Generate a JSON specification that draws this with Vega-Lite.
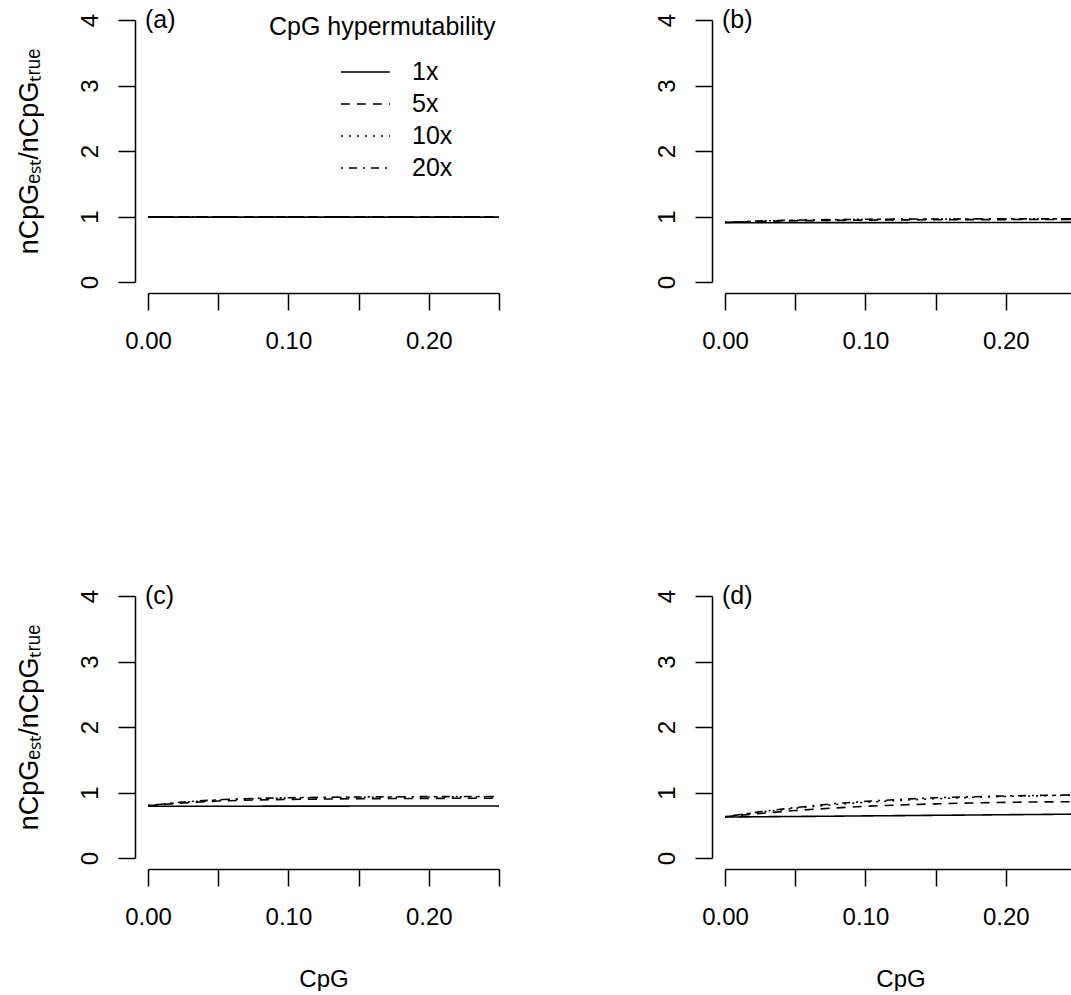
{
  "$schema": "https://vega.github.io/schema/vega-lite/v6.json",
  "usermeta": {"embedOptions": {"actions": false}},
  "padding": {"left": 15, "top": 8, "right": 0, "bottom": 0},
  "background": "white",
  "datasets": {
    "curves": [
      {"p":"a","m":"1x","x":0,"y":0.99},{"p":"a","m":"1x","x":0.025,"y":0.99},{"p":"a","m":"1x","x":0.05,"y":0.99},{"p":"a","m":"1x","x":0.075,"y":0.99},{"p":"a","m":"1x","x":0.1,"y":0.99},{"p":"a","m":"1x","x":0.125,"y":0.99},{"p":"a","m":"1x","x":0.15,"y":0.99},{"p":"a","m":"1x","x":0.175,"y":0.99},{"p":"a","m":"1x","x":0.2,"y":0.99},{"p":"a","m":"1x","x":0.225,"y":0.99},{"p":"a","m":"1x","x":0.25,"y":0.99},
      {"p":"a","m":"5x","x":0,"y":0.995},{"p":"a","m":"5x","x":0.025,"y":0.995},{"p":"a","m":"5x","x":0.05,"y":0.995},{"p":"a","m":"5x","x":0.075,"y":0.995},{"p":"a","m":"5x","x":0.1,"y":0.995},{"p":"a","m":"5x","x":0.125,"y":0.995},{"p":"a","m":"5x","x":0.15,"y":0.995},{"p":"a","m":"5x","x":0.175,"y":0.995},{"p":"a","m":"5x","x":0.2,"y":0.995},{"p":"a","m":"5x","x":0.225,"y":0.995},{"p":"a","m":"5x","x":0.25,"y":0.995},
      {"p":"a","m":"10x","x":0,"y":0.996},{"p":"a","m":"10x","x":0.025,"y":0.996},{"p":"a","m":"10x","x":0.05,"y":0.996},{"p":"a","m":"10x","x":0.075,"y":0.996},{"p":"a","m":"10x","x":0.1,"y":0.996},{"p":"a","m":"10x","x":0.125,"y":0.996},{"p":"a","m":"10x","x":0.15,"y":0.996},{"p":"a","m":"10x","x":0.175,"y":0.996},{"p":"a","m":"10x","x":0.2,"y":0.996},{"p":"a","m":"10x","x":0.225,"y":0.996},{"p":"a","m":"10x","x":0.25,"y":0.996},
      {"p":"a","m":"20x","x":0,"y":0.997},{"p":"a","m":"20x","x":0.025,"y":0.997},{"p":"a","m":"20x","x":0.05,"y":0.997},{"p":"a","m":"20x","x":0.075,"y":0.997},{"p":"a","m":"20x","x":0.1,"y":0.997},{"p":"a","m":"20x","x":0.125,"y":0.997},{"p":"a","m":"20x","x":0.15,"y":0.997},{"p":"a","m":"20x","x":0.175,"y":0.997},{"p":"a","m":"20x","x":0.2,"y":0.997},{"p":"a","m":"20x","x":0.225,"y":0.997},{"p":"a","m":"20x","x":0.25,"y":0.997},

      {"p":"b","m":"1x","x":0,"y":0.905},{"p":"b","m":"1x","x":0.025,"y":0.905},{"p":"b","m":"1x","x":0.05,"y":0.906},{"p":"b","m":"1x","x":0.075,"y":0.906},{"p":"b","m":"1x","x":0.1,"y":0.907},{"p":"b","m":"1x","x":0.125,"y":0.907},{"p":"b","m":"1x","x":0.15,"y":0.908},{"p":"b","m":"1x","x":0.175,"y":0.908},{"p":"b","m":"1x","x":0.2,"y":0.909},{"p":"b","m":"1x","x":0.225,"y":0.909},{"p":"b","m":"1x","x":0.25,"y":0.91},
      {"p":"b","m":"5x","x":0,"y":0.91},{"p":"b","m":"5x","x":0.025,"y":0.925},{"p":"b","m":"5x","x":0.05,"y":0.935},{"p":"b","m":"5x","x":0.075,"y":0.94},{"p":"b","m":"5x","x":0.1,"y":0.945},{"p":"b","m":"5x","x":0.125,"y":0.948},{"p":"b","m":"5x","x":0.15,"y":0.95},{"p":"b","m":"5x","x":0.175,"y":0.952},{"p":"b","m":"5x","x":0.2,"y":0.953},{"p":"b","m":"5x","x":0.225,"y":0.954},{"p":"b","m":"5x","x":0.25,"y":0.955},
      {"p":"b","m":"10x","x":0,"y":0.91},{"p":"b","m":"10x","x":0.025,"y":0.93},{"p":"b","m":"10x","x":0.05,"y":0.942},{"p":"b","m":"10x","x":0.075,"y":0.95},{"p":"b","m":"10x","x":0.1,"y":0.955},{"p":"b","m":"10x","x":0.125,"y":0.958},{"p":"b","m":"10x","x":0.15,"y":0.96},{"p":"b","m":"10x","x":0.175,"y":0.961},{"p":"b","m":"10x","x":0.2,"y":0.962},{"p":"b","m":"10x","x":0.225,"y":0.963},{"p":"b","m":"10x","x":0.25,"y":0.963},
      {"p":"b","m":"20x","x":0,"y":0.91},{"p":"b","m":"20x","x":0.025,"y":0.932},{"p":"b","m":"20x","x":0.05,"y":0.945},{"p":"b","m":"20x","x":0.075,"y":0.952},{"p":"b","m":"20x","x":0.1,"y":0.957},{"p":"b","m":"20x","x":0.125,"y":0.96},{"p":"b","m":"20x","x":0.15,"y":0.962},{"p":"b","m":"20x","x":0.175,"y":0.963},{"p":"b","m":"20x","x":0.2,"y":0.964},{"p":"b","m":"20x","x":0.225,"y":0.964},{"p":"b","m":"20x","x":0.25,"y":0.965},

      {"p":"c","m":"1x","x":0,"y":0.79},{"p":"c","m":"1x","x":0.025,"y":0.79},{"p":"c","m":"1x","x":0.05,"y":0.791},{"p":"c","m":"1x","x":0.075,"y":0.791},{"p":"c","m":"1x","x":0.1,"y":0.792},{"p":"c","m":"1x","x":0.125,"y":0.792},{"p":"c","m":"1x","x":0.15,"y":0.793},{"p":"c","m":"1x","x":0.175,"y":0.793},{"p":"c","m":"1x","x":0.2,"y":0.794},{"p":"c","m":"1x","x":0.225,"y":0.794},{"p":"c","m":"1x","x":0.25,"y":0.795},
      {"p":"c","m":"5x","x":0,"y":0.8},{"p":"c","m":"5x","x":0.025,"y":0.84},{"p":"c","m":"5x","x":0.05,"y":0.87},{"p":"c","m":"5x","x":0.075,"y":0.885},{"p":"c","m":"5x","x":0.1,"y":0.895},{"p":"c","m":"5x","x":0.125,"y":0.9},{"p":"c","m":"5x","x":0.15,"y":0.905},{"p":"c","m":"5x","x":0.175,"y":0.908},{"p":"c","m":"5x","x":0.2,"y":0.91},{"p":"c","m":"5x","x":0.225,"y":0.912},{"p":"c","m":"5x","x":0.25,"y":0.913},
      {"p":"c","m":"10x","x":0,"y":0.8},{"p":"c","m":"10x","x":0.025,"y":0.85},{"p":"c","m":"10x","x":0.05,"y":0.885},{"p":"c","m":"10x","x":0.075,"y":0.905},{"p":"c","m":"10x","x":0.1,"y":0.915},{"p":"c","m":"10x","x":0.125,"y":0.922},{"p":"c","m":"10x","x":0.15,"y":0.927},{"p":"c","m":"10x","x":0.175,"y":0.93},{"p":"c","m":"10x","x":0.2,"y":0.932},{"p":"c","m":"10x","x":0.225,"y":0.934},{"p":"c","m":"10x","x":0.25,"y":0.935},
      {"p":"c","m":"20x","x":0,"y":0.8},{"p":"c","m":"20x","x":0.025,"y":0.855},{"p":"c","m":"20x","x":0.05,"y":0.89},{"p":"c","m":"20x","x":0.075,"y":0.91},{"p":"c","m":"20x","x":0.1,"y":0.92},{"p":"c","m":"20x","x":0.125,"y":0.927},{"p":"c","m":"20x","x":0.15,"y":0.932},{"p":"c","m":"20x","x":0.175,"y":0.935},{"p":"c","m":"20x","x":0.2,"y":0.937},{"p":"c","m":"20x","x":0.225,"y":0.938},{"p":"c","m":"20x","x":0.25,"y":0.94},

      {"p":"d","m":"1x","x":0,"y":0.625},{"p":"d","m":"1x","x":0.025,"y":0.63},{"p":"d","m":"1x","x":0.05,"y":0.634},{"p":"d","m":"1x","x":0.075,"y":0.638},{"p":"d","m":"1x","x":0.1,"y":0.643},{"p":"d","m":"1x","x":0.125,"y":0.647},{"p":"d","m":"1x","x":0.15,"y":0.652},{"p":"d","m":"1x","x":0.175,"y":0.656},{"p":"d","m":"1x","x":0.2,"y":0.661},{"p":"d","m":"1x","x":0.225,"y":0.665},{"p":"d","m":"1x","x":0.25,"y":0.67},
      {"p":"d","m":"5x","x":0,"y":0.63},{"p":"d","m":"5x","x":0.025,"y":0.68},{"p":"d","m":"5x","x":0.05,"y":0.725},{"p":"d","m":"5x","x":0.075,"y":0.76},{"p":"d","m":"5x","x":0.1,"y":0.79},{"p":"d","m":"5x","x":0.125,"y":0.81},{"p":"d","m":"5x","x":0.15,"y":0.827},{"p":"d","m":"5x","x":0.175,"y":0.84},{"p":"d","m":"5x","x":0.2,"y":0.85},{"p":"d","m":"5x","x":0.225,"y":0.856},{"p":"d","m":"5x","x":0.25,"y":0.86},
      {"p":"d","m":"10x","x":0,"y":0.63},{"p":"d","m":"10x","x":0.025,"y":0.7},{"p":"d","m":"10x","x":0.05,"y":0.76},{"p":"d","m":"10x","x":0.075,"y":0.81},{"p":"d","m":"10x","x":0.1,"y":0.85},{"p":"d","m":"10x","x":0.125,"y":0.88},{"p":"d","m":"10x","x":0.15,"y":0.905},{"p":"d","m":"10x","x":0.175,"y":0.925},{"p":"d","m":"10x","x":0.2,"y":0.94},{"p":"d","m":"10x","x":0.225,"y":0.95},{"p":"d","m":"10x","x":0.25,"y":0.96},
      {"p":"d","m":"20x","x":0,"y":0.63},{"p":"d","m":"20x","x":0.025,"y":0.705},{"p":"d","m":"20x","x":0.05,"y":0.77},{"p":"d","m":"20x","x":0.075,"y":0.825},{"p":"d","m":"20x","x":0.1,"y":0.865},{"p":"d","m":"20x","x":0.125,"y":0.895},{"p":"d","m":"20x","x":0.15,"y":0.92},{"p":"d","m":"20x","x":0.175,"y":0.935},{"p":"d","m":"20x","x":0.2,"y":0.948},{"p":"d","m":"20x","x":0.225,"y":0.956},{"p":"d","m":"20x","x":0.25,"y":0.962}
    ]
  },
  "vconcat": [
    {
      "hconcat": [
        {
          "width": 351, "height": 262,
          "layer": [
            {
              "data": {"name": "curves"},
              "transform": [{"filter": "datum.p === 'a'"}],
              "mark": {"type": "line", "color": "black", "strokeWidth": 1.6},
              "encoding": {
                "x": {"field": "x", "type": "quantitative", "scale": {"domain": [0, 0.25], "nice": false, "zero": false},
                  "axis": {"title": null, "values": [0, 0.05, 0.1, 0.15, 0.2, 0.25], "format": ".2f"}},
                "y": {"field": "y", "type": "quantitative", "scale": {"domain": [0, 4], "nice": false},
                  "axis": {"title": "nCpGₑₛₜ/nCpGₜᵣᵤₑ", "values": [0, 1, 2, 3, 4], "format": "d"}},
                "strokeDash": {"field": "m", "type": "nominal", "sort": ["1x", "5x", "10x", "20x"],
                  "scale": {"domain": ["1x", "5x", "10x", "20x"], "range": [[1, 0], [9, 7], [2, 6], [2, 6, 8, 6]]},
                  "legend": {"orient": "none", "legendX": 121, "legendY": -5, "title": "CpG hypermutability",
                    "titleFontSize": 25, "titleFontWeight": "normal", "titleColor": "black", "titleFont": "Liberation Sans", "titlePadding": 16, "titleLimit": 500,
                    "labelFontSize": 25, "labelColor": "black", "labelFont": "Liberation Sans", "labelOffset": 21,
                    "symbolType": "stroke", "symbolSize": 2401, "symbolStrokeColor": "black", "symbolStrokeWidth": 1.5,
                    "symbolOffset": 71, "rowPadding": 0, "clipHeight": 32}}
              }
            },
            {
              "data": {"values": [{"lab": "(a)"}]},
              "mark": {"type": "text", "align": "left", "baseline": "middle", "fontSize": 25, "font": "Liberation Sans", "color": "black", "dx": -3},
              "encoding": {"x": {"datum": 0, "type": "quantitative"}, "y": {"datum": 4, "type": "quantitative"}, "text": {"field": "lab"}}
            }
          ]
        },
        {
          "width": 351, "height": 262,
          "layer": [
            {
              "data": {"name": "curves"},
              "transform": [{"filter": "datum.p === 'b'"}],
              "mark": {"type": "line", "color": "black", "strokeWidth": 1.6},
              "encoding": {
                "x": {"field": "x", "type": "quantitative", "scale": {"domain": [0, 0.25], "nice": false, "zero": false},
                  "axis": {"title": null, "values": [0, 0.05, 0.1, 0.15, 0.2, 0.25], "format": ".2f"}},
                "y": {"field": "y", "type": "quantitative", "scale": {"domain": [0, 4], "nice": false},
                  "axis": {"title": null, "values": [0, 1, 2, 3, 4], "format": "d"}},
                "strokeDash": {"field": "m", "type": "nominal", "sort": ["1x", "5x", "10x", "20x"],
                  "scale": {"domain": ["1x", "5x", "10x", "20x"], "range": [[1, 0], [9, 7], [2, 6], [2, 6, 8, 6]]}, "legend": null}
              }
            },
            {
              "data": {"values": [{"lab": "(b)"}]},
              "mark": {"type": "text", "align": "left", "baseline": "middle", "fontSize": 25, "font": "Liberation Sans", "color": "black", "dx": -3},
              "encoding": {"x": {"datum": 0, "type": "quantitative"}, "y": {"datum": 4, "type": "quantitative"}, "text": {"field": "lab"}}
            }
          ]
        }
      ],
      "spacing": 226,
      "bounds": "flush"
    },
    {
      "hconcat": [
        {
          "width": 351, "height": 262,
          "layer": [
            {
              "data": {"name": "curves"},
              "transform": [{"filter": "datum.p === 'c'"}],
              "mark": {"type": "line", "color": "black", "strokeWidth": 1.6},
              "encoding": {
                "x": {"field": "x", "type": "quantitative", "scale": {"domain": [0, 0.25], "nice": false, "zero": false},
                  "axis": {"title": "CpG", "values": [0, 0.05, 0.1, 0.15, 0.2, 0.25], "format": ".2f"}},
                "y": {"field": "y", "type": "quantitative", "scale": {"domain": [0, 4], "nice": false},
                  "axis": {"title": "nCpGₑₛₜ/nCpGₜᵣᵤₑ", "values": [0, 1, 2, 3, 4], "format": "d"}},
                "strokeDash": {"field": "m", "type": "nominal", "sort": ["1x", "5x", "10x", "20x"],
                  "scale": {"domain": ["1x", "5x", "10x", "20x"], "range": [[1, 0], [9, 7], [2, 6], [2, 6, 8, 6]]}, "legend": null}
              }
            },
            {
              "data": {"values": [{"lab": "(c)"}]},
              "mark": {"type": "text", "align": "left", "baseline": "middle", "fontSize": 25, "font": "Liberation Sans", "color": "black", "dx": -3},
              "encoding": {"x": {"datum": 0, "type": "quantitative"}, "y": {"datum": 4, "type": "quantitative"}, "text": {"field": "lab"}}
            }
          ]
        },
        {
          "width": 351, "height": 262,
          "layer": [
            {
              "data": {"name": "curves"},
              "transform": [{"filter": "datum.p === 'd'"}],
              "mark": {"type": "line", "color": "black", "strokeWidth": 1.6},
              "encoding": {
                "x": {"field": "x", "type": "quantitative", "scale": {"domain": [0, 0.25], "nice": false, "zero": false},
                  "axis": {"title": "CpG", "values": [0, 0.05, 0.1, 0.15, 0.2, 0.25], "format": ".2f"}},
                "y": {"field": "y", "type": "quantitative", "scale": {"domain": [0, 4], "nice": false},
                  "axis": {"title": null, "values": [0, 1, 2, 3, 4], "format": "d"}},
                "strokeDash": {"field": "m", "type": "nominal", "sort": ["1x", "5x", "10x", "20x"],
                  "scale": {"domain": ["1x", "5x", "10x", "20x"], "range": [[1, 0], [9, 7], [2, 6], [2, 6, 8, 6]]}, "legend": null}
              }
            },
            {
              "data": {"values": [{"lab": "(d)"}]},
              "mark": {"type": "text", "align": "left", "baseline": "middle", "fontSize": 25, "font": "Liberation Sans", "color": "black", "dx": -3},
              "encoding": {"x": {"datum": 0, "type": "quantitative"}, "y": {"datum": 4, "type": "quantitative"}, "text": {"field": "lab"}}
            }
          ]
        }
      ],
      "spacing": 226,
      "bounds": "flush"
    }
  ],
  "spacing": 576,
  "bounds": "flush",
  "config": {
    "font": "Liberation Sans",
    "view": {"stroke": null},
    "axis": {
      "grid": false,
      "domainColor": "black", "domainWidth": 1.5,
      "tickColor": "black", "tickWidth": 1.5, "tickSize": 17,
      "labelColor": "black", "labelFontSize": 24, "labelFont": "Liberation Sans",
      "titleColor": "black", "titleFontSize": 24, "titleFont": "Liberation Sans", "titleFontWeight": "normal"
    },
    "axisX": {
      "offset": 11,
      "labelExpr": "indexof(['0.00', '0.10', '0.20'], datum.label) >= 0 ? datum.label : ''",
      "labelBaseline": "alphabetic", "labelPadding": 38, "labelFlush": false, "labelOverlap": false,
      "titleBaseline": "alphabetic", "titleY": 117
    },
    "axisY": {
      "offset": 13,
      "labelAngle": 270, "labelAlign": "center", "labelBaseline": "alphabetic", "labelPadding": 21,
      "labelOverlap": false, "labelFlush": false,
      "titleBaseline": "alphabetic", "titleX": -98, "titleFontSize": 27
    }
  }
}
